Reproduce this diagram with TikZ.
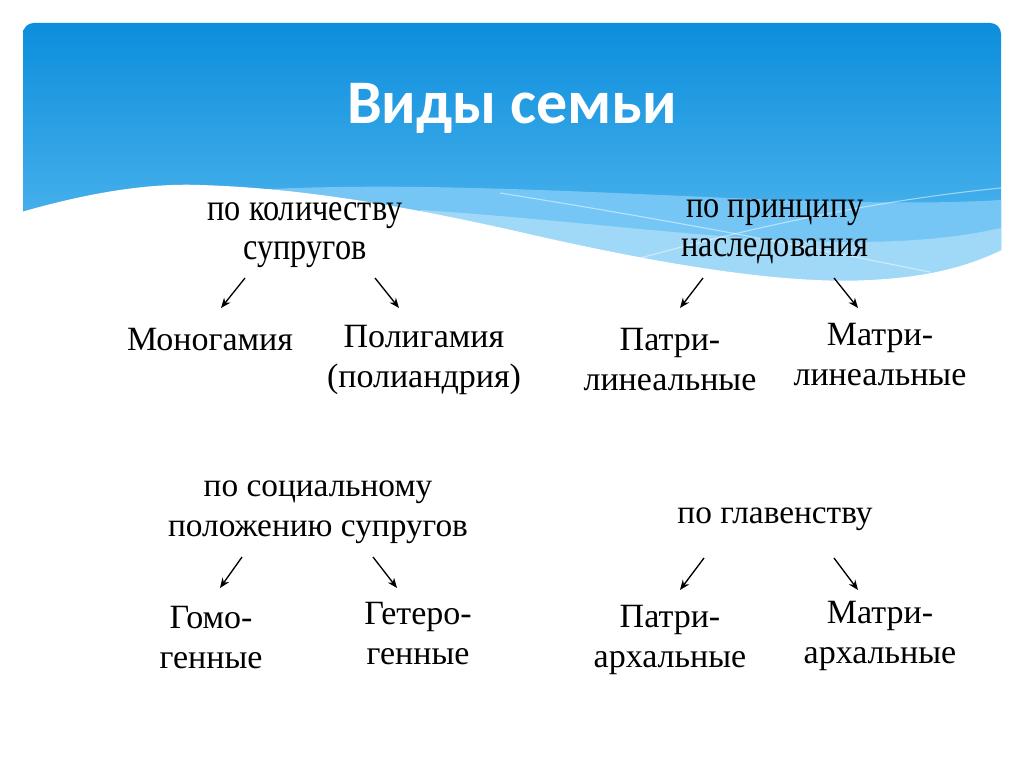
\documentclass[tikz,border=0pt]{standalone}
\usepackage{fontspec}
\setmainfont{Liberation Serif}
\newfontfamily\titlefont{Carlito}
\newfontfamily\condfont[FakeStretch=0.85]{Liberation Serif}
\usetikzlibrary{arrows.meta}
\definecolor{bluetop}{RGB}{12,142,220}
\definecolor{bluebot}{RGB}{95,190,242}
\definecolor{bandA}{RGB}{118,198,245}
\definecolor{bandB}{RGB}{160,216,248}
\tikzset{
  lbl/.style={font=\fontsize{25.5}{30}\selectfont, align=center, inner sep=0pt, text=black},
  toplbl/.style={font=\condfont\fontsize{28.5}{29.3}\selectfont, align=center, inner sep=0pt, text=black},
  catlbl/.style={font=\fontsize{25}{30}\selectfont, align=center, inner sep=0pt, text=black},
  arr/.style={line width=1pt, -{Stealth[length=7.5pt,width=6pt]}},
}
\begin{document}
\begin{tikzpicture}[x=0.75pt,y=-0.75pt]
\useasboundingbox (0,0) rectangle (1024,767);
\fill[white] (0,0) rectangle (1024,767);
% header
\begin{scope}
\clip[rounded corners=8pt] (23,300) -- (23,23) -- (1001,23) -- (1001,300) -- cycle;
\shade[top color=bluetop, bottom color=bluebot]
  (23,300) rectangle (1001,23);
\fill[bandA] (250,190) .. controls (500,176) and (800,212) .. (1001,200) -- (1001,305) -- (250,305) -- cycle;
\fill[bandB] (420,210) .. controls (650,225) and (850,262) .. (1001,228) -- (1001,305) -- (420,305) -- cycle;
\draw[white, opacity=0.5, line width=0.8pt] (500,193) .. controls (700,225) and (820,250) .. (930,272);
\draw[white, opacity=0.5, line width=0.8pt] (633,260) .. controls (760,225) and (880,200) .. (1001,188);
\end{scope}
\fill[white] (18,213) .. controls (90,192) and (150,183) .. (200,185)
  .. controls (300,188) and (400,205) .. (520,232)
  .. controls (650,262) and (780,285) .. (870,280)
  .. controls (930,277) and (970,266) .. (1006,248)
  -- (1006,310) -- (18,310) -- cycle;
\node[font=\titlefont\bfseries\fontsize{46.5}{50}\selectfont, text=white, inner sep=0pt] (title) at (512,108) {Виды семьи};
% categories
\node[toplbl] (kol) at (305,235) {по количеству\\супругов};
\node[toplbl] (prin) at (775,232) {по принципу\\наследования};
\node[catlbl] (soc) at (318,512) {по социальному\\положению супругов};
\node[catlbl] (glav) at (775,519) {по главенству};
% leaves
\node[lbl] (mono) at (210,340) {Моногамия};
\node[lbl] (poly) at (424,360) {Полигамия\\(полиандрия)};
\node[lbl] (patl) at (670,360) {Патри-\\линеальные};
\node[lbl] (matl) at (880,355) {Матри-\\линеальные};
\node[lbl] (gomo) at (211,638) {Гомо-\\генные};
\node[lbl] (getero) at (418,634) {Гетеро-\\генные};
\node[lbl] (patA) at (670,640) {Патри-\\архальные};
\node[lbl] (matA) at (880,636) {Матри-\\архальные};
% arrow ends
\coordinate (k1) at (245,278); \coordinate (k1e) at (221,308);
\coordinate (k2) at (375,278); \coordinate (k2e) at (399,308);
\coordinate (p1) at (703,278); \coordinate (p1e) at (680,308);
\coordinate (p2) at (834,278); \coordinate (p2e) at (858,308);
\coordinate (s1) at (242,557); \coordinate (s1e) at (220,588);
\coordinate (s2) at (373,557); \coordinate (s2e) at (397,588);
\coordinate (g1) at (704,558); \coordinate (g1e) at (680,590);
\coordinate (g2) at (834,558); \coordinate (g2e) at (858,590);
\draw[arr] (k1) -- (k1e);
\draw[arr] (k2) -- (k2e);
\draw[arr] (p1) -- (p1e);
\draw[arr] (p2) -- (p2e);
\draw[arr] (s1) -- (s1e);
\draw[arr] (s2) -- (s2e);
\draw[arr] (g1) -- (g1e);
\draw[arr] (g2) -- (g2e);
\end{tikzpicture}
\end{document}
